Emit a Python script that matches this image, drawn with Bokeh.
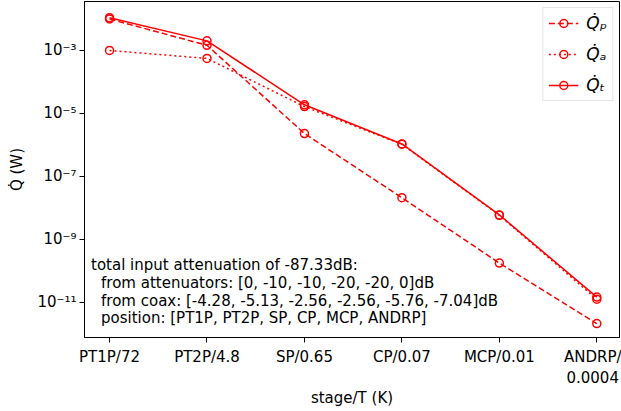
from bokeh.plotting import figure
from bokeh.models import Range1d, FixedTicker, Label, Legend, LegendItem
from bokeh.embed import file_html
from bokeh.resources import INLINE

# ---- data ----
stages = ["PT1P/72", "PT2P/4.8", "SP/0.65", "CP/0.07", "MCP/0.01", "ANDRP/\n0.0004"]
q_p = [1.0e-2, 1.46e-3, 2.3e-6, 2.1e-8, 1.76e-10, 2.1e-12]
q_a = [1.0e-3, 5.6e-4, 1.65e-5, 1.05e-6, 5.8e-9, 1.25e-11]
q_t = [1.1e-2, 2.02e-3, 1.88e-5, 1.07e-6, 5.98e-9, 1.46e-11]
y_ticks = [1e-11, 1e-9, 1e-7, 1e-5, 1e-3]
y_tick_labels = ["10⁻¹¹", "10⁻⁹", "10⁻⁷", "10⁻⁵", "10⁻³"]
series_labels = ["Q̇ₚ", "Q̇ₐ", "Q̇ₜ"]
note_lines = [
    "total input attenuation of -87.33dB:",
    "from attenuators: [0, -10, -10, -20, -20, 0]dB",
    "from coax: [-4.28, -5.13, -2.56, -2.56, -5.76, -7.04]dB",
    "position: [PT1P, PT2P, SP, CP, MCP, ANDRP]",
]

FONT = "DejaVu Sans"
FS = "15px"
RED = "#ff0000"

xs = list(range(len(stages)))

p = figure(width=621, height=411,
           x_range=Range1d(-0.257, 5.233), y_range=Range1d(7.6e-13, 3.6e-2),
           y_axis_type="log", output_backend="svg", toolbar_location=None,
           min_border_left=84, min_border_right=2, min_border_top=1, min_border_bottom=74)

p.xgrid.visible = False
p.ygrid.visible = False
p.outline_line_color = "black"
p.outline_line_width = 1
p.background_fill_color = "white"
p.border_fill_color = "white"

styles = [("6 3", q_p), ("2 3", q_a), ("solid", q_t)]
items = []
for (dash, ys), lab in zip(styles, series_labels):
    l = p.line(xs, ys, line_color=RED, line_width=1.5, line_dash=dash)
    s = p.scatter(xs, ys, marker="circle", size=8, fill_color=None,
                  line_color=RED, line_width=1.5)
    items.append(LegendItem(label=lab, renderers=[l, s]))

legend = Legend(items=items, location="top_right")
legend.margin = 6
legend.padding = 5
legend.spacing = 11
legend.glyph_width = 30
legend.glyph_height = 20
legend.label_height = 20
legend.label_standoff = 8
legend.label_text_font = FONT
legend.label_text_font_size = "17px"
legend.label_text_font_style = "italic"
legend.label_text_color = "black"
legend.border_line_color = "#cccccc"
legend.border_line_width = 1
legend.background_fill_alpha = 0.8
p.add_layout(legend)

# axes
for ax in (p.xaxis[0], p.yaxis[0]):
    ax.axis_line_width = 1
    ax.axis_line_color = "black"
    ax.major_tick_line_width = 1
    ax.major_tick_line_color = "black"
    ax.major_tick_out = 5
    ax.major_tick_in = 0
    ax.minor_tick_out = 0
    ax.minor_tick_in = 0
    ax.major_label_text_font = FONT
    ax.major_label_text_font_size = FS
    ax.axis_label_text_font = FONT
    ax.axis_label_text_font_size = FS
    ax.axis_label_text_font_style = "normal"
    ax.major_label_text_color = "black"
    ax.axis_label_text_color = "black"

p.xaxis.ticker = FixedTicker(ticks=xs)
p.xaxis.major_label_overrides = {i: s for i, s in zip(xs, stages)}
p.xaxis.major_label_standoff = 5
p.xaxis.axis_label = "stage/T (K)"
p.xaxis.axis_label_standoff = -1

p.yaxis.ticker = FixedTicker(ticks=y_ticks, minor_ticks=[])
p.yaxis.major_label_overrides = {v: s for v, s in zip(y_ticks, y_tick_labels)}
p.yaxis.major_label_standoff = 3
p.yaxis.axis_label = "Q̇ (W)"
p.yaxis.axis_label_standoff = 8

# annotation text
def ypix_to_data(ypx):
    return 10 ** (-3 - (ypx - 50) / 31.46)

line_centers = [264, 282, 300, 317]
for i, (txt, yc) in enumerate(zip(note_lines, line_centers)):
    lab = Label(x=-0.19, y=ypix_to_data(yc), text=txt,
                x_offset=0 if i == 0 else 10,
                text_font=FONT, text_font_size=FS, text_baseline="middle",
                text_align="left", text_color="black")
    p.add_layout(lab)

open("out.html", "w").write(file_html(p, INLINE))
